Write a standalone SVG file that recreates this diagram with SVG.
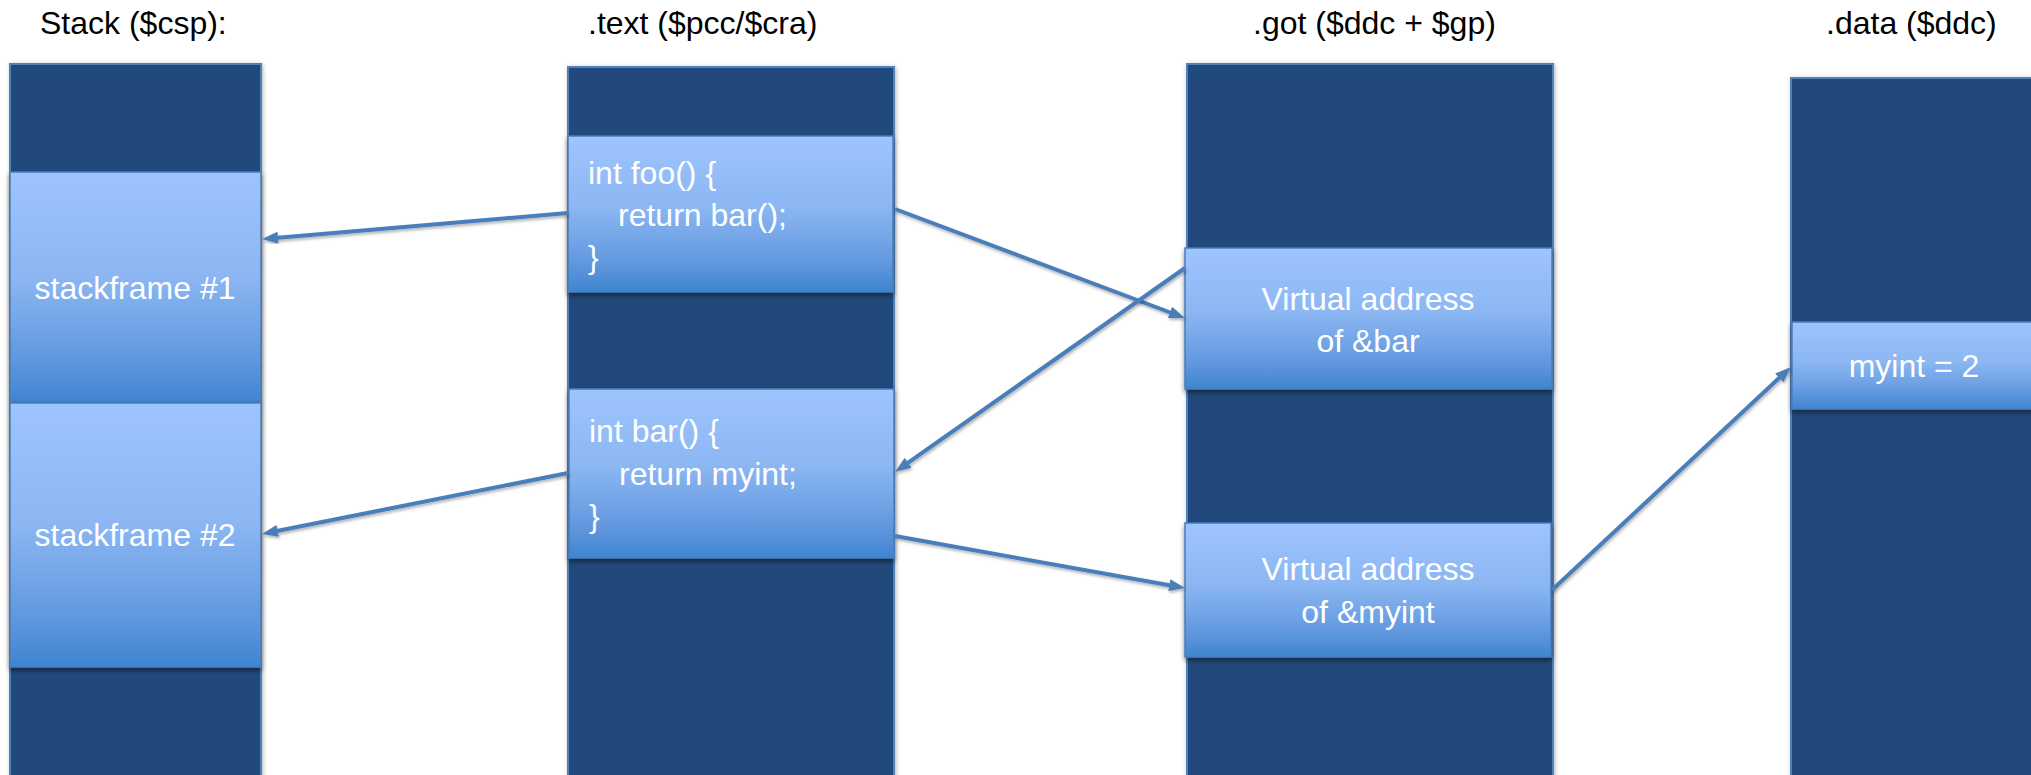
<svg xmlns="http://www.w3.org/2000/svg" width="2031" height="775" viewBox="0 0 2031 775">
<defs>
<linearGradient id="boxg" x1="0" y1="0" x2="0" y2="1">
<stop offset="0" stop-color="#9EC4FE"/>
<stop offset="0.45" stop-color="#8CB7F3"/>
<stop offset="0.8" stop-color="#6399DF"/>
<stop offset="1" stop-color="#3F84D0"/>
</linearGradient>
<filter id="sh" x="-10%" y="-10%" width="120%" height="130%">
<feDropShadow dx="0" dy="3" stdDeviation="2.5" flood-color="#000" flood-opacity="0.45"/>
</filter>
<filter id="csh" x="-10%" y="-10%" width="120%" height="120%">
<feDropShadow dx="1" dy="1" stdDeviation="2" flood-color="#000" flood-opacity="0.3"/>
</filter>
<filter id="ash" x="-20%" y="-20%" width="140%" height="140%">
<feDropShadow dx="1" dy="2" stdDeviation="1.5" flood-color="#000" flood-opacity="0.3"/>
</filter>
<marker id="ah" viewBox="0 0 16 12" refX="6" refY="6" markerWidth="16" markerHeight="12" markerUnits="userSpaceOnUse" orient="auto">
<path d="M0,0 L16,6 L0,12 z" fill="#4A7EBB"/>
</marker>
</defs>
<style>
.col{fill:#204A7B;stroke:#4F81BD;stroke-width:2;filter:url(#csh)}
.box{fill:url(#boxg);stroke:#4A7EBB;stroke-width:1.5;filter:url(#sh)}
.title{font-family:"Liberation Sans",Arial,sans-serif;font-size:32px;fill:#000}
.lbl{font-family:"Liberation Sans",Arial,sans-serif;font-size:32px;fill:#fff}
.mid{text-anchor:middle}
.arr{stroke:#4A7EBB;stroke-width:4;fill:none;marker-end:url(#ah);filter:url(#ash)}
</style>
<rect width="2031" height="775" fill="#fff"/>
<g id="titles">
<text class="title" x="40" y="34">Stack ($csp):</text>
<text class="title" x="588" y="34">.text ($pcc/$cra)</text>
<text class="title" x="1253" y="34">.got ($ddc + $gp)</text>
<text class="title" x="1826" y="34">.data ($ddc)</text>
</g>
<g id="stack">
<rect class="col" x="10" y="64" width="251" height="730"/>
<g id="stackframe1">
<rect class="box" x="10" y="172" width="251" height="230"/>
<text class="lbl mid" x="135" y="299">stackframe #1</text>
</g>
<g id="stackframe2">
<rect class="box" x="10" y="403" width="251" height="264"/>
<text class="lbl mid" x="135" y="546">stackframe #2</text>
</g>
</g>
<g id="text">
<rect class="col" x="568" y="67" width="326" height="727"/>
<g id="foo">
<rect class="box" x="568" y="136" width="325" height="156"/>
<text class="lbl" x="588" y="184">int foo() {</text>
<text class="lbl" x="618" y="226">return bar();</text>
<text class="lbl" x="588" y="268">}</text>
</g>
<g id="bar">
<rect class="box" x="569" y="389" width="325" height="169"/>
<text class="lbl" x="589" y="442">int bar() {</text>
<text class="lbl" x="619" y="485">return myint;</text>
<text class="lbl" x="589" y="527">}</text>
</g>
</g>
<g id="got">
<rect class="col" x="1187" y="64" width="366" height="730"/>
<g id="got-bar">
<rect class="box" x="1185" y="248" width="367" height="141"/>
<text class="lbl mid" x="1368" y="310">Virtual address</text>
<text class="lbl mid" x="1368" y="352">of &amp;bar</text>
</g>
<g id="got-myint">
<rect class="box" x="1185" y="523" width="366" height="134"/>
<text class="lbl mid" x="1368" y="580">Virtual address</text>
<text class="lbl mid" x="1368" y="623">of &amp;myint</text>
</g>
</g>
<g id="data">
<rect class="col" x="1791" y="78" width="260" height="716"/>
<g id="data-myint">
<rect class="box" x="1792" y="322" width="259" height="87"/>
<text class="lbl mid" x="1914" y="377">myint = 2</text>
</g>
</g>
<g id="connectors">
<path class="arr" d="M568,213 L272,238.2"/>
<path class="arr" d="M568,473 L271.8,532"/>
<path class="arr" d="M895,209 L1175.6,314.5"/>
<path class="arr" d="M1185,268 L903.2,466.2"/>
<path class="arr" d="M895,536 L1175.2,586.2"/>
<path class="arr" d="M1552,590 L1783.7,373.8"/>
</g>
</svg>
